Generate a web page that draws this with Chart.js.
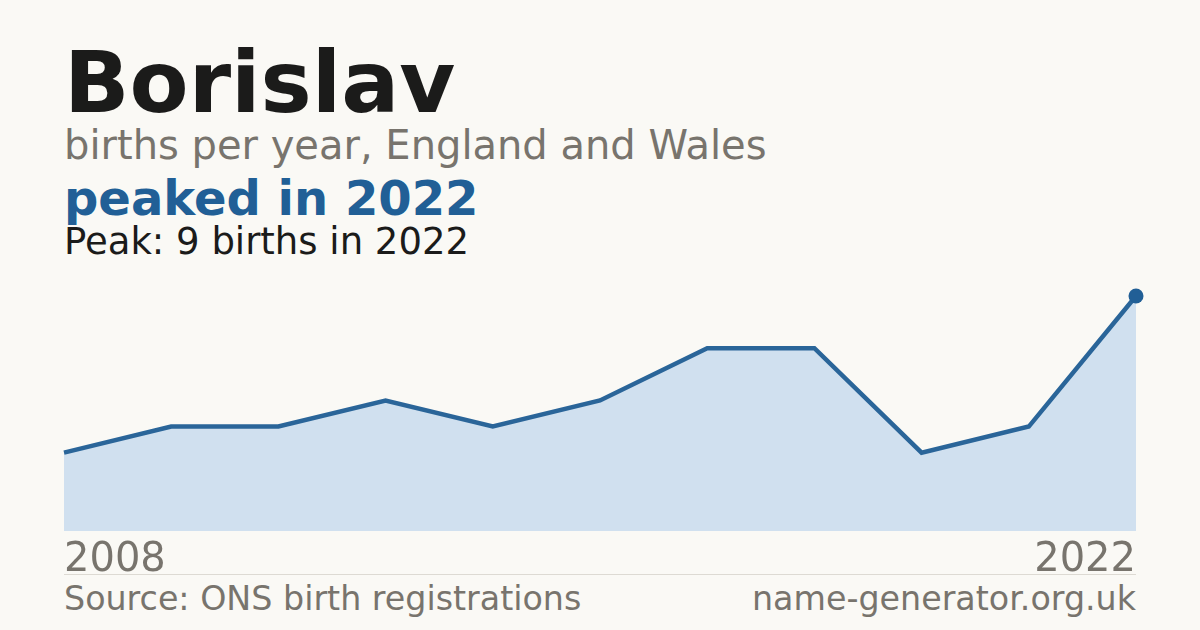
<!DOCTYPE html>
<html>
<head>
<meta charset="utf-8">
<script src="https://cdn.jsdelivr.net/npm/chart.js@4/dist/chart.umd.min.js"></script>
<style>
  html, body { margin: 0; padding: 0; }
  body {
    width: 1200px; height: 630px; overflow: hidden;
    background: #faf9f5;
    font-family: "DejaVu Sans", sans-serif;
    position: relative;
  }
  .t { position: absolute; left: 64px; white-space: nowrap; line-height: 1; }
  #name { top: 39px; font-size: 86px; font-weight: bold; color: #1b1b1a; }
  #sub { top: 125px; font-size: 40px; color: #78746d; }
  #peak { top: 174px; font-size: 48px; font-weight: bold; color: #215f96; }
  #detail { top: 223px; font-size: 37px; color: #1b1b1a; }
  #rule { position: absolute; left: 64px; width: 1072px; top: 574px; height: 1px; background: #dddad3; }
  .foot { position: absolute; top: 582px; font-size: 33.3px; color: #78746d; line-height: 1; white-space: nowrap; }
  #src { left: 64px; }
  #site { right: 64px; }
  #wrap { position: absolute; left: 0; top: 0; width: 1200px; height: 630px; }
</style>
</head>
<body>
<div class="t" id="name">Borislav</div>
<div class="t" id="sub">births per year, England and Wales</div>
<div class="t" id="peak">peaked in 2022</div>
<div class="t" id="detail">Peak: 9 births in 2022</div>
<div id="rule"></div>
<div class="foot" id="src">Source: ONS birth registrations</div>
<div class="foot" id="site">name-generator.org.uk</div>
<div id="wrap"><canvas id="c"></canvas></div>
<script>
// years that have a registration count (evenly spaced in the chart)
const years = ['2008', '2010', '2011', '2012', '2013', '2014', '2015', '2016', '2018', '2021', '2022'];
const births = [3, 4, 4, 5, 4, 5, 7, 7, 3, 4, 9];

const lineColor = '#2a6599';
const fillColor = '#d0e0ef';
const lastIdx = births.length - 1;

new Chart(document.getElementById('c'), {
    type: 'line',
    data: {
        labels: years,
        datasets: [{
            data: births,
            borderColor: lineColor,
            borderWidth: 4.5,
            backgroundColor: fillColor,
            fill: 'origin',
            tension: 0,
            clip: false,
            pointRadius: births.map((v, i) => i === lastIdx ? 7.5 : 0),
            pointBackgroundColor: '#215f96',
            pointBorderWidth: 0,
            pointHoverRadius: 0
        }]
    },
    options: {
        responsive: true,
        maintainAspectRatio: false,
        animation: false,
        layout: { padding: { left: 64, right: 64, top: 296, bottom: 47 } },
        plugins: { legend: { display: false }, tooltip: { enabled: false } },
        scales: {
            x: {
                offset: false,
                grid: { display: false },
                border: { display: false },
                ticks: {
                    autoSkip: false,
                    maxRotation: 0,
                    align: 'inner',
                    padding: -2,
                    color: '#78746d',
                    font: { family: 'DejaVu Sans', size: 40 },
                    callback: function (val, i) {
                        return (i === 0 || i === lastIdx) ? this.getLabelForValue(val) : '';
                    }
                }
            },
            y: { display: false, min: 0, max: 9 }
        }
    }
});
</script>
</body>
</html>
